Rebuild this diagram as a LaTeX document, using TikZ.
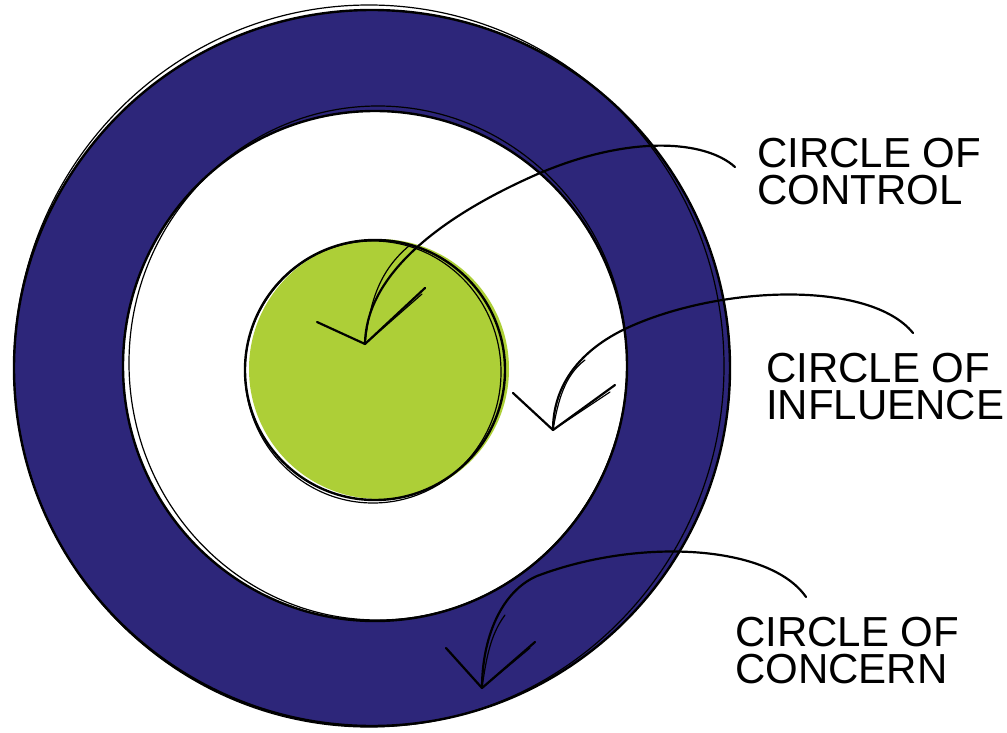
\documentclass[tikz,border=0pt]{standalone}
\usepackage{fontspec}
\newfontfamily\labfont{Liberation Sans}
\definecolor{navy}{RGB}{45,38,122}
\definecolor{lime}{RGB}{173,207,55}
\begin{document}
\begin{tikzpicture}[x=1pt,y=-1pt,
  outline/.style={draw=black,line width=2.4pt},
  sketch/.style={draw=black,line width=1.2pt},
  pointer/.style={draw=black,line width=2.2pt,line cap=round,line join=round},
  pointer2/.style={draw=black,line width=1.2pt,line cap=round},
  lab/.style={anchor=north west,inner sep=0pt,align=left,
    font=\labfont\fontsize{42}{37}\selectfont}]
\useasboundingbox (0,0) rectangle (1007,733);
% circles
\fill[navy] (372,368) ellipse [x radius=358,y radius=358];
\draw[outline] (372,368) ellipse [x radius=358,y radius=358];
\draw[sketch] (369,366) ellipse [x radius=355,y radius=361];
\fill[white] (375,366) ellipse [x radius=252,y radius=255];
\draw[outline] (375,366) ellipse [x radius=252,y radius=255];
\draw[sketch] (378,363) ellipse [x radius=249,y radius=257];
\fill[lime] (379,369) circle [radius=130];
\draw[outline] (375,370) circle [radius=130];
\draw[sketch] (373,372) ellipse [x radius=128,y radius=131];
% labels
\node[lab] (control) at (757,138) {CIRCLE OF\\CONTROL};
\node[lab] (influence) at (766,353) {CIRCLE OF\\INFLUENCE};
\node[lab] (concern) at (735,617) {CIRCLE OF\\CONCERN};
% connector ends
\coordinate (cS) at (735,167);
\coordinate (cT) at (365,344);
\coordinate (cL) at (317,322);
\coordinate (cR) at (425,288);
\coordinate (iS) at (913,333);
\coordinate (iT) at (553,430);
\coordinate (iL) at (513,393);
\coordinate (iR) at (615,385);
\coordinate (nS) at (806,597);
\coordinate (nT) at (482,688);
\coordinate (nL) at (446,648);
\coordinate (nR) at (535,642);
% arrows
\draw[pointer] (cS) .. controls (705,140) and (630,135) .. (540,173)
  .. controls (450,212) and (366,270) .. (cT);
\draw[pointer2] (410,245) .. controls (380,270) and (370,300) .. (cT);
\draw[pointer] (cL) -- (cT) -- (cR);
\draw[pointer2] (cT) -- (422,294);
\draw[pointer] (iS) .. controls (870,280) and (720,285) .. (627,328)
  .. controls (580,350) and (553,385) .. (iT);
\draw[pointer2] (585,360) .. controls (565,375) and (558,400) .. (iT);
\draw[pointer] (iL) -- (iT) -- (iR);
\draw[pointer2] (iT) -- (610,392);
\draw[pointer] (nS) .. controls (770,545) and (640,537) .. (537,576)
  .. controls (500,592) and (482,640) .. (nT);
\draw[pointer2] (505,615) .. controls (490,635) and (486,660) .. (nT);
\draw[pointer] (nL) -- (nT) -- (nR);
\draw[pointer2] (nT) -- (530,648);
\end{tikzpicture}
\end{document}
